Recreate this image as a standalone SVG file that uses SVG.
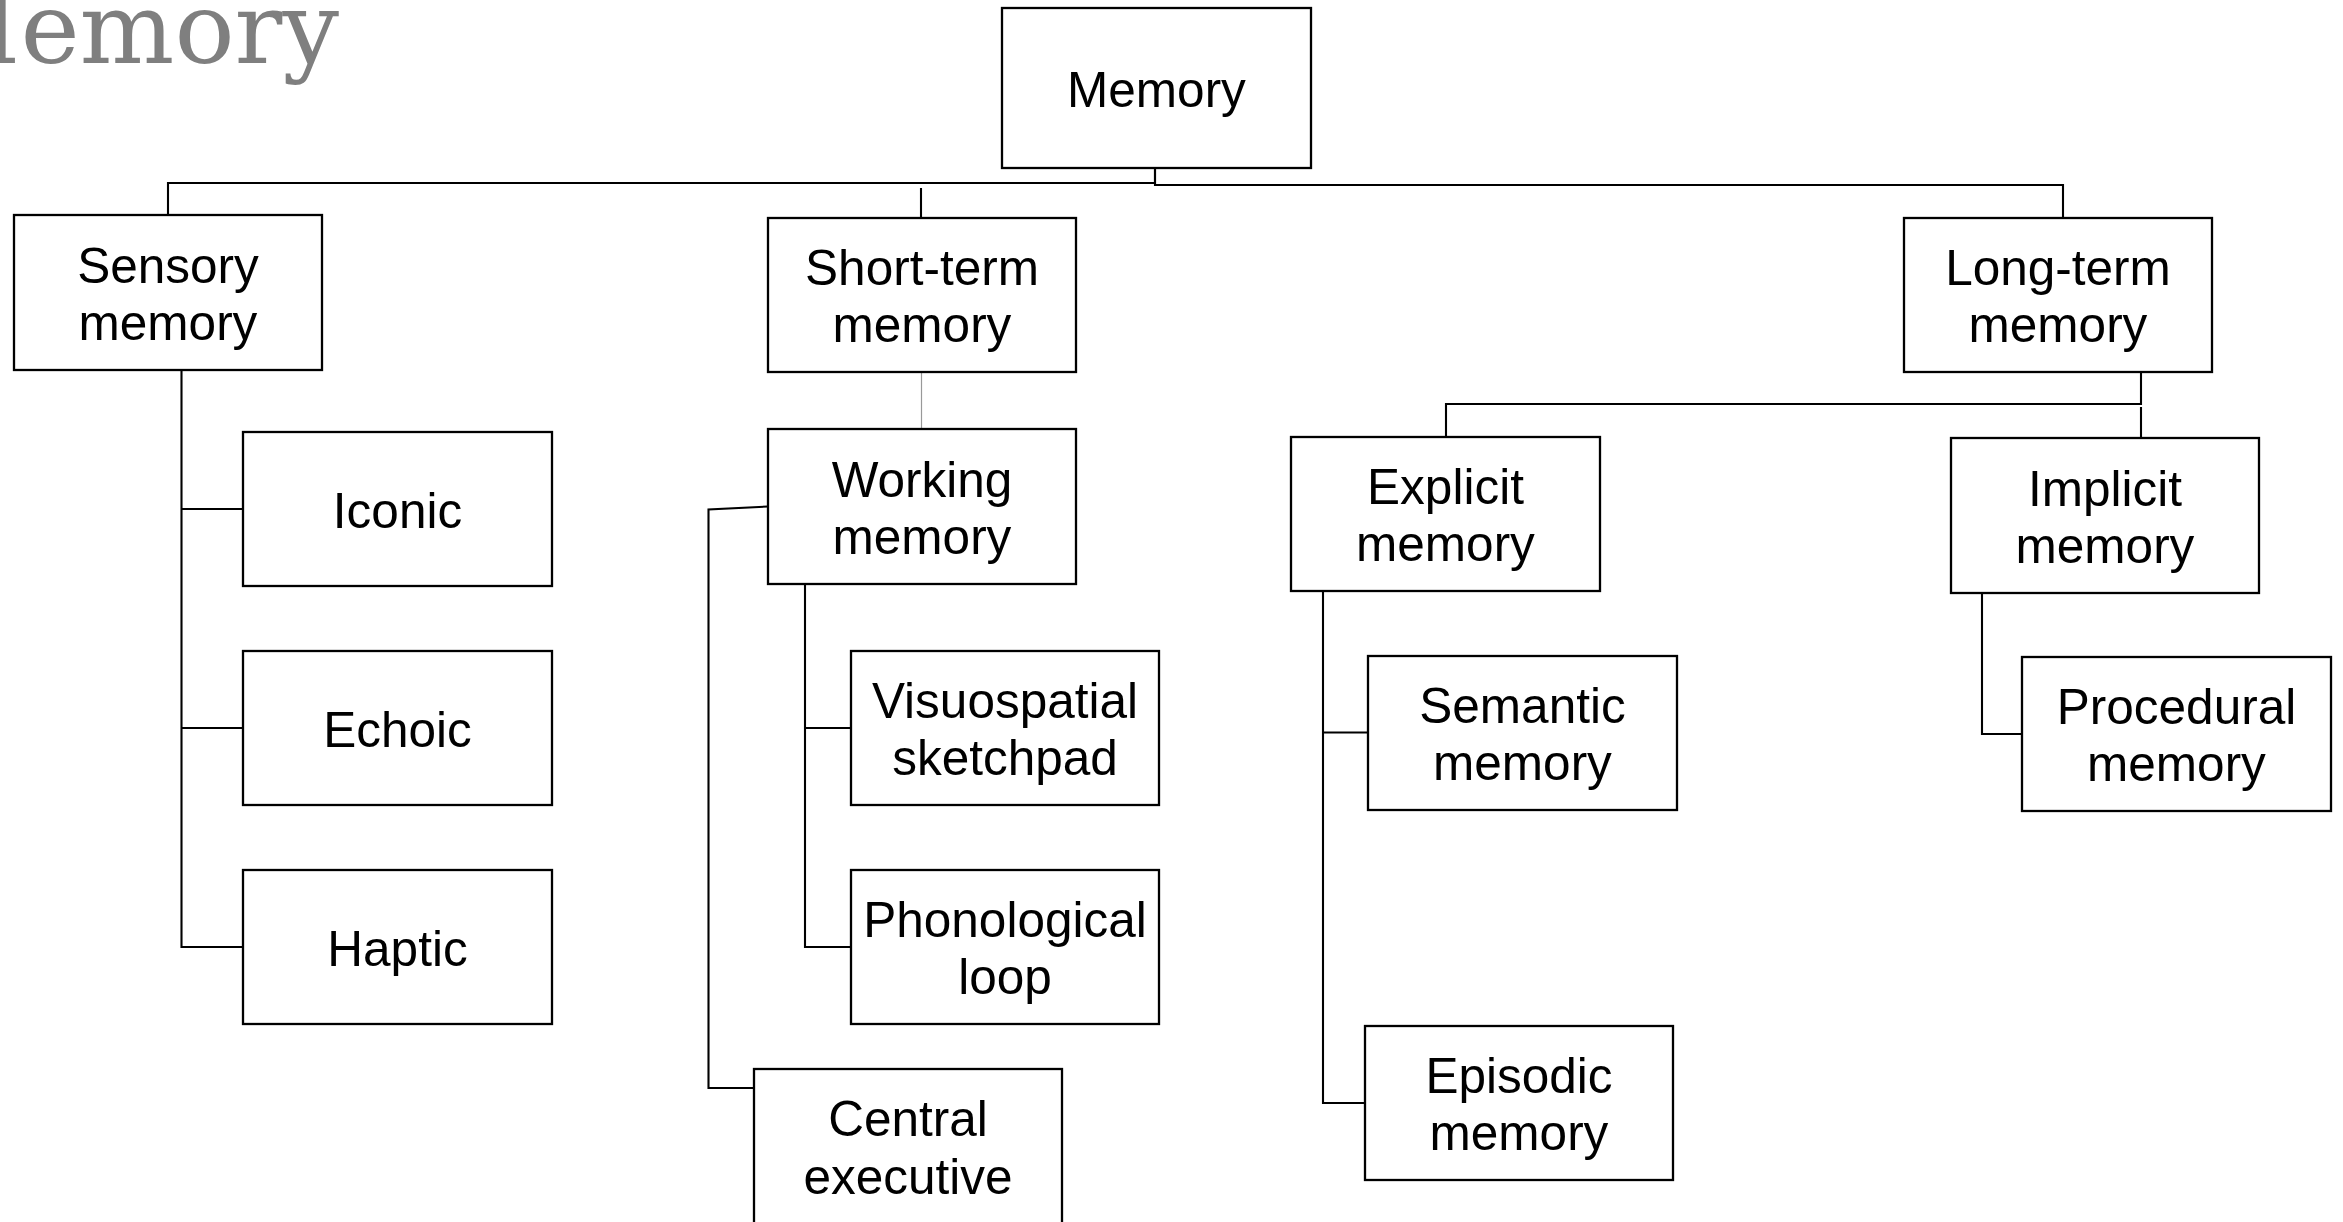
<svg xmlns="http://www.w3.org/2000/svg" width="2343" height="1222" viewBox="0 0 2343 1222">
<style>
.box{fill:#fff;stroke:#000;stroke-width:2.3}
.lbl{font-family:"Liberation Sans",Arial,sans-serif;font-size:49.5px;fill:#000;text-anchor:middle}
.con{fill:none;stroke:#000;stroke-width:2.1}
.con2{fill:none;stroke:#999;stroke-width:1.2}
.title{font-family:"DejaVu Serif","Liberation Serif",serif;font-size:100px;fill:#7f7f7f}
</style>
<rect width="2343" height="1222" fill="#fff"/>
<text class="title" x="-82" y="63">Memory</text>
<g id="connectors">
<path class="con" d="M168,215 V183 H1155 V168"/>
<path class="con" d="M1155,168 V185 H2063 V218"/>
<path class="con" d="M921,188 V218"/>
<path class="con2" d="M921.5,372 V429"/>
<path class="con" d="M181.5,370 V947 H243 M181.5,509 H243 M181.5,728 H243"/>
<path class="con" d="M805,584 V947 H851 M805,728 H851"/>
<path class="con" d="M768,506.5 L708.5,509.5 V1088 H754"/>
<path class="con" d="M2141,372 V404 H1446 V437"/>
<path class="con" d="M2141,407 V438"/>
<path class="con" d="M1323,591 V1103 H1365 M1323,732.5 H1368"/>
<path class="con" d="M1982,593 V734 H2022"/>
</g>
<g id="memory"><rect class="box" x="1002" y="8" width="309" height="160"/><text class="lbl" x="1156.5" y="107">Memory</text></g>
<g id="sensory"><rect class="box" x="14" y="215" width="308" height="155"/><text class="lbl"><tspan x="168" y="283">Sensory</tspan><tspan x="168" y="340">memory</tspan></text></g>
<g id="short-term"><rect class="box" x="768" y="218" width="308" height="154"/><text class="lbl"><tspan x="922" y="285">Short-term</tspan><tspan x="922" y="342">memory</tspan></text></g>
<g id="long-term"><rect class="box" x="1904" y="218" width="308" height="154"/><text class="lbl"><tspan x="2058" y="285">Long-term</tspan><tspan x="2058" y="342">memory</tspan></text></g>
<g id="iconic"><rect class="box" x="243" y="432" width="309" height="154"/><text class="lbl" x="397.5" y="528">Iconic</text></g>
<g id="echoic"><rect class="box" x="243" y="651" width="309" height="154"/><text class="lbl" x="397.5" y="747">Echoic</text></g>
<g id="haptic"><rect class="box" x="243" y="870" width="309" height="154"/><text class="lbl" x="397.5" y="966">Haptic</text></g>
<g id="working"><rect class="box" x="768" y="429" width="308" height="155"/><text class="lbl"><tspan x="922" y="497">Working</tspan><tspan x="922" y="554">memory</tspan></text></g>
<g id="visuospatial"><rect class="box" x="851" y="651" width="308" height="154"/><text class="lbl"><tspan x="1005" y="718">Visuospatial</tspan><tspan x="1005" y="775">sketchpad</tspan></text></g>
<g id="phonological"><rect class="box" x="851" y="870" width="308" height="154"/><text class="lbl"><tspan x="1005" y="937">Phonological</tspan><tspan x="1005" y="994">loop</tspan></text></g>
<g id="central"><rect class="box" x="754" y="1069" width="308" height="155"/><text class="lbl"><tspan x="908" y="1136">Central</tspan><tspan x="908" y="1194">executive</tspan></text></g>
<g id="explicit"><rect class="box" x="1291" y="437" width="309" height="154"/><text class="lbl"><tspan x="1445.5" y="504">Explicit</tspan><tspan x="1445.5" y="561">memory</tspan></text></g>
<g id="implicit"><rect class="box" x="1951" y="438" width="308" height="155"/><text class="lbl"><tspan x="2105" y="506">Implicit</tspan><tspan x="2105" y="563">memory</tspan></text></g>
<g id="semantic"><rect class="box" x="1368" y="656" width="309" height="154"/><text class="lbl"><tspan x="1522.5" y="723">Semantic</tspan><tspan x="1522.5" y="780">memory</tspan></text></g>
<g id="episodic"><rect class="box" x="1365" y="1026" width="308" height="154"/><text class="lbl"><tspan x="1519" y="1093">Episodic</tspan><tspan x="1519" y="1150">memory</tspan></text></g>
<g id="procedural"><rect class="box" x="2022" y="657" width="309" height="154"/><text class="lbl"><tspan x="2176.5" y="724">Procedural</tspan><tspan x="2176.5" y="781">memory</tspan></text></g>
</svg>
